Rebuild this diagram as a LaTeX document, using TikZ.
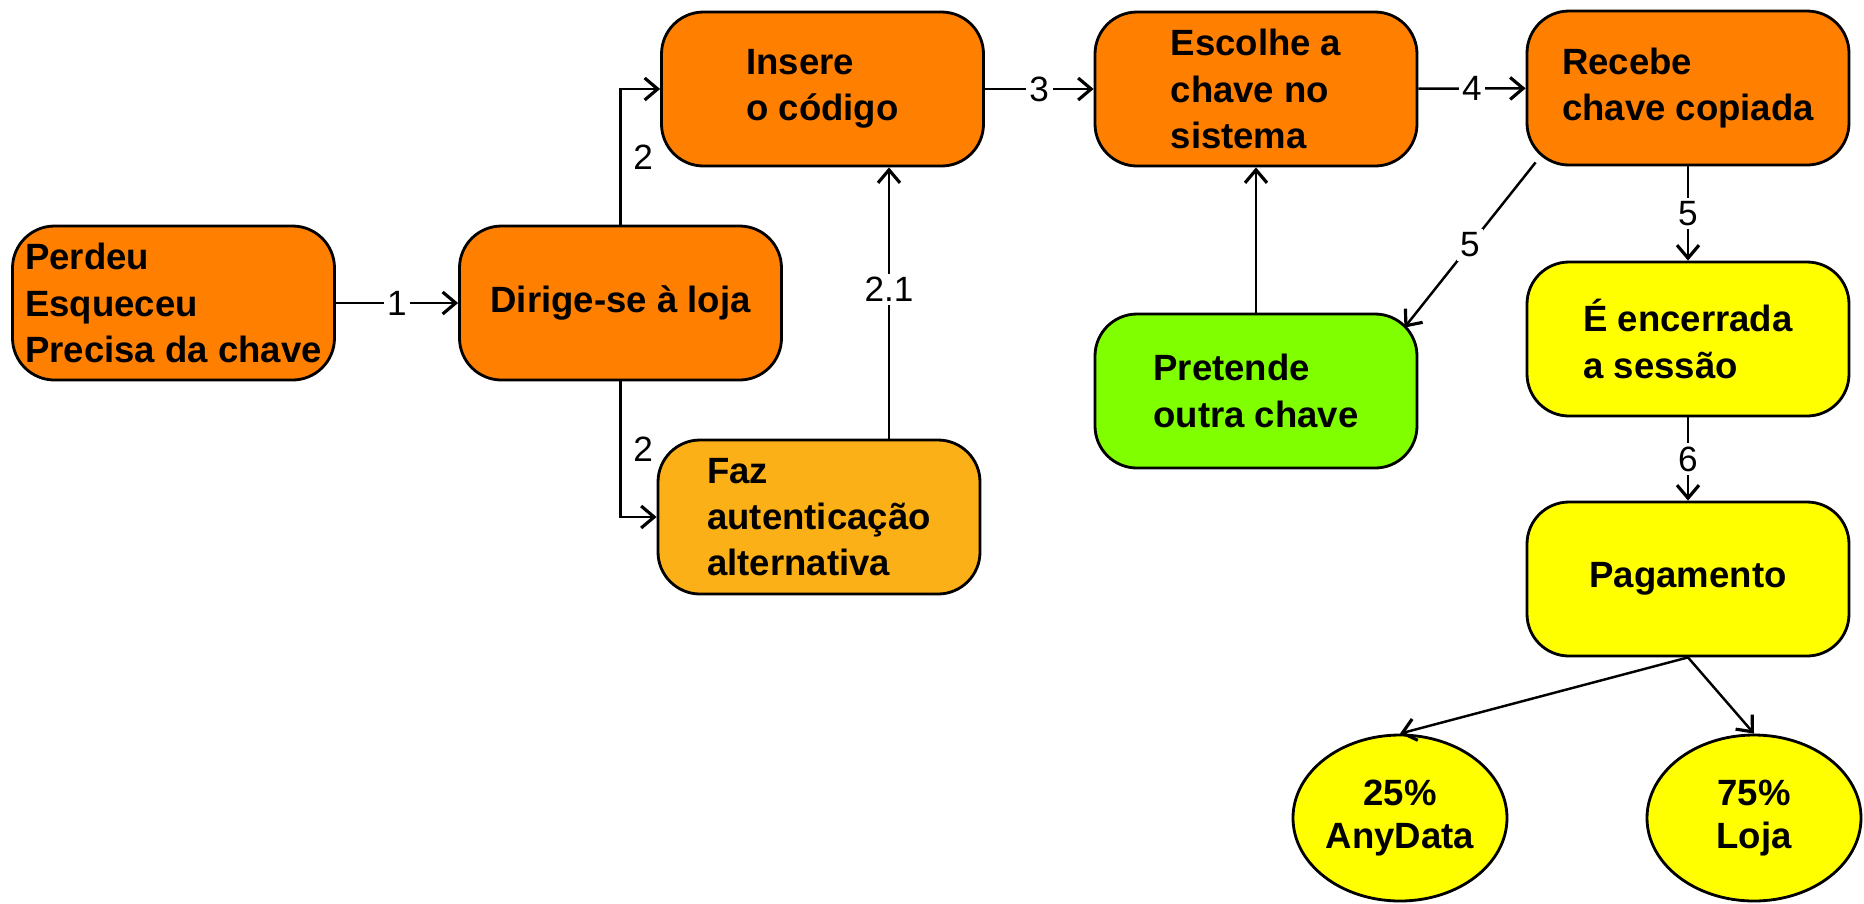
\documentclass[tikz,border=0pt]{standalone}
\usepackage{fontspec}
\setmainfont{Liberation Sans}
\usetikzlibrary{positioning,arrows,arrows.meta}
\usetikzlibrary{shapes.geometric}
\definecolor{laranja}{RGB}{255,128,0}
\definecolor{laranjaclaro}{RGB}{251,176,23}
\definecolor{verde}{RGB}{128,255,0}
\definecolor{amarelo}{RGB}{255,255,0}
\tikzstyle{etapa} = [draw, rounded corners=0.42cm, line width=0.8pt, minimum width=3.22cm, minimum height=1.54cm, align=left, inner sep=0pt, font=\fontsize{10.4}{13.2}\selectfont\bfseries]
\tikzstyle{bola} = [draw, ellipse, line width=0.8pt, fill=amarelo, minimum width=2.14cm, minimum height=1.66cm, align=center, inner sep=0pt, font=\fontsize{10.4}{12.4}\selectfont\bfseries]
\tikzstyle{seta} = [-{Straight Barb[length=1.3mm,width=2.2mm,line width=0.9pt]}, line width=0.7pt]
\tikzstyle{num} = [fill=white, inner sep=1pt, font=\fontsize{10}{12}\selectfont]

\begin{document}
\begin{tikzpicture}
\useasboundingbox (0,0) rectangle (18.64,-9.03);

\node[etapa, fill=laranja] (perdeu) at (1.735,-3.03) {Perdeu\\Esqueceu\\Precisa da chave};
\node[etapa, fill=laranja] (dirige) at (6.205,-3.03) {Dirige-se à loja};
\node[etapa, fill=laranja] (insere) at (8.225,-0.89) {Insere\\o código};
\node[etapa, fill=laranjaclaro] (faz) at (8.19,-5.17) {Faz\\autenticação\\alternativa};
\node[etapa, fill=laranja] (escolhe) at (12.56,-0.89) {Escolhe a\\chave no\\sistema};
\node[etapa, fill=laranja] (recebe) at (16.88,-0.88) {Recebe\\chave copiada};
\node[etapa, fill=verde] (pretende) at (12.56,-3.91) {Pretende\\outra chave};
\node[etapa, fill=amarelo] (encerrada) at (16.88,-3.39) {É encerrada\\a sessão};
\node[etapa, fill=amarelo] (pagamento) at (16.88,-5.79) {Pagamento};
\node[bola] (anydata) at (14.00,-8.18) {25\%\\AnyData};
\node[bola] (loja) at (17.54,-8.18) {75\%\\Loja};

\draw[seta] (perdeu) -- node[num] {1} (dirige);
\draw[seta] (dirige.north) |- node[pos=0.25, right, font=\fontsize{10}{12}\selectfont] {2} (insere.west);
\draw[seta] (dirige.south) |- node[pos=0.25, right, font=\fontsize{10}{12}\selectfont] {2} (faz.west);
\draw[seta] ([xshift=7mm]faz.north) -- node[num, pos=0.55] {2.1} ([xshift=7mm]faz.north |- insere.south);
\draw[seta] (insere) -- node[num] {3} (escolhe);
\draw[seta] (escolhe) -- node[num] {4} (recebe);
\draw[seta] (recebe) -- node[num] {5} (encerrada);
\draw[seta] ([shift={(0.1,0.04)}]recebe.south west) -- node[num] {5} ([shift={(-0.14,-0.15)}]pretende.north east);
\draw[seta] (pretende) -- (escolhe);
\draw[seta] (encerrada) -- node[num] {6} (pagamento);
\draw[seta] (pagamento.south) -- (anydata.north);
\draw[seta] (pagamento.south) -- (loja.north);

\end{tikzpicture}
\end{document}
